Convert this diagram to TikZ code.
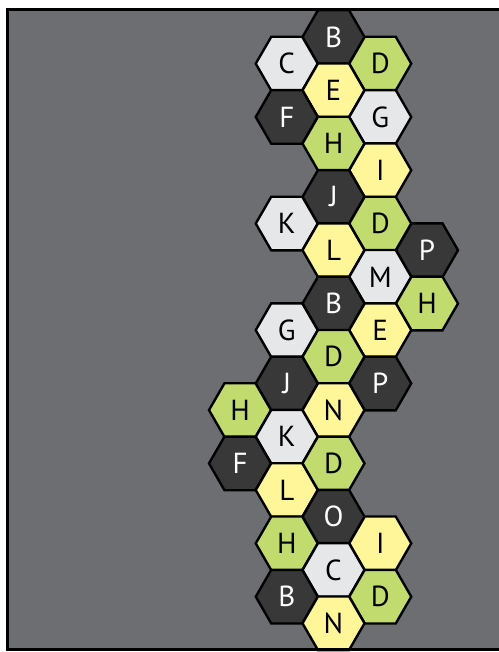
\documentclass[tikz,border=0pt]{standalone}
\usepackage{fontspec}
\setmainfont{PT Sans}
\usetikzlibrary{shapes.geometric}
\definecolor{boardgray}{RGB}{109,110,113}
\definecolor{tiledark}{RGB}{56,56,56}
\definecolor{tilelight}{RGB}{230,231,232}
\definecolor{tilegreen}{RGB}{194,219,110}
\definecolor{tileyellow}{RGB}{255,246,153}

\begin{document}
\begin{tikzpicture}[x=1pt, y=-1pt,
    hex/.style={regular polygon, regular polygon sides=6, minimum size=62pt, inner sep=0pt,
        draw=black, line width=2.4pt, font=\fontsize{29}{29}\selectfont},
    hexdark/.style={hex, fill=tiledark, text=white},
    hexlight/.style={hex, fill=tilelight, text=black},
    hexgreen/.style={hex, fill=tilegreen, text=black},
    hexyellow/.style={hex, fill=tileyellow, text=black}]
    \useasboundingbox (0,0) rectangle (498,652);
    % board
    \fill[boardgray] (7.5,9.5) rectangle (510,649);

    % upper group
    \node[hexdark]   (b1) at (333.5,37)     {B};
    \node[hexlight]  (c1) at (286.75,63.65) {C};
    \node[hexgreen]  (d1) at (380.25,63.65) {D};
    \node[hexyellow] (e1) at (333.5,90.3)   {E};
    \node[hexdark]   (f1) at (286.75,116.95) {F};
    \node[hexlight]  (g1) at (380.25,116.95) {G};
    \node[hexgreen]  (h1) at (333.5,143.6)  {H};
    \node[hexyellow] (i1) at (380.25,170.25) {I};
    \node[hexdark]   (j1) at (333.5,196.9)  {J};
    \node[hexlight]  (k1) at (286.75,223.55) {K};
    \node[hexgreen]  (d2) at (380.25,223.55) {D};

    % middle group
    \node[hexyellow] (l1) at (333.5,250.2)  {L};
    \node[hexdark]   (p1) at (427,250.2)    {P};
    \node[hexlight]  (m1) at (380.25,276.85) {M};
    \node[hexdark]   (b2) at (333.5,303.5)  {B};
    \node[hexgreen]  (h2) at (427,303.5)    {H};
    \node[hexlight]  (g2) at (286.75,330.15) {G};
    \node[hexyellow] (e2) at (380.25,330.15) {E};
    \node[hexgreen]  (d3) at (333.5,356.8)  {D};
    \node[hexdark]   (j2) at (286.75,383.45) {J};
    \node[hexdark]   (p2) at (380.25,383.45) {P};
    \node[hexgreen]  (h3) at (240,410.1)    {H};
    \node[hexyellow] (n1) at (333.5,410.1)  {N};

    % lower group
    \node[hexlight]  (k2) at (286.75,436.75) {K};
    \node[hexdark]   (f2) at (240,463.4)    {F};
    \node[hexgreen]  (d4) at (333.5,463.4)  {D};
    \node[hexyellow] (l2) at (286.75,490.05) {L};
    \node[hexdark]   (o1) at (333.5,516.7)  {O};
    \node[hexgreen]  (h4) at (286.75,543.35) {H};
    \node[hexyellow] (i2) at (380.25,543.35) {I};
    \node[hexlight]  (c2) at (333.5,570)    {C};
    \node[hexdark]   (b3) at (286.75,596.65) {B};
    \node[hexgreen]  (d5) at (380.25,596.65) {D};
    \node[hexyellow] (n2) at (333.5,623.3)  {N};

    % frame
    \draw[black, line width=3pt] (510,9.5) -- (7.5,9.5) -- (7.5,649) -- (510,649);
\end{tikzpicture}
\end{document}
